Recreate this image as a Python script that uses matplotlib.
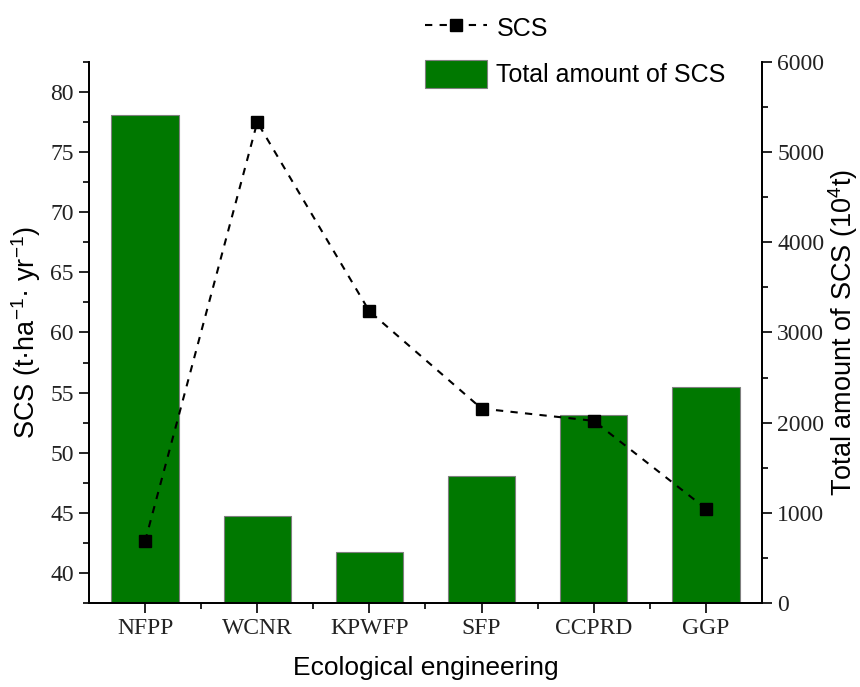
import matplotlib
matplotlib.use("Agg")
import matplotlib.pyplot as plt
from matplotlib.ticker import MultipleLocator, FixedLocator
import numpy as np

plt.rcParams['font.family'] = ['Liberation Sans', 'DejaVu Sans']
plt.rcParams['mathtext.default'] = 'regular'

# Ecological engineering programmes
categories = ['NFPP', 'WCNR', 'KPWFP', 'SFP', 'CCPRD', 'GGP']
# Soil carbon sequestration rate (t·ha-1·yr-1)
scs_rate = [42.63, 77.49, 61.76, 53.67, 52.65, 45.35]
# Total amount of SCS (10^4 t)
scs_total = [5412, 965, 570, 1408, 2083, 2399]

bar_color = '#007800'
serif = 'Liberation Serif'

fig = plt.figure(figsize=(8.6, 6.87), dpi=100)
ax1 = fig.add_axes([0.1035, 0.1223, 0.7825, 0.7875])
ax2 = ax1.twinx()

x = np.arange(len(categories))

# bars on the right axis, drawn underneath the line
ax2.bar(x, scs_total, width=0.6, color=bar_color, edgecolor='#7f7f7f',
        linewidth=0.8, label='Total amount of SCS', zorder=1)
ax2.set_ylim(0, 6000)
ax2.yaxis.set_major_locator(MultipleLocator(1000))
ax2.yaxis.set_minor_locator(MultipleLocator(500))

# line on the left axis
ax1.set_zorder(ax2.get_zorder() + 1)
ax1.patch.set_visible(False)
ax1.plot(x, scs_rate, color='black', linestyle=(0, (3.5, 3.5)), linewidth=1.5,
         marker='s', markersize=8.5, markerfacecolor='black',
         markeredgecolor='black', label='SCS', zorder=3)
ax1.set_ylim(37.5, 82.5)
ax1.yaxis.set_major_locator(MultipleLocator(5))
ax1.yaxis.set_minor_locator(MultipleLocator(2.5))

ax1.set_xlim(-0.5, 5.5)
ax1.set_xticks(x)
ax1.set_xticklabels(categories)
ax1.xaxis.set_minor_locator(FixedLocator(x[:-1] + 0.5))

for ax in (ax1, ax2):
    ax.spines['top'].set_visible(False)
    for s in ('left', 'right', 'bottom'):
        ax.spines[s].set_linewidth(1.3)
    ax.tick_params(which='major', direction='out', length=7.5, width=1.2,
                   labelsize=17, labelcolor='#222222')
    ax.tick_params(which='minor', direction='out', length=4, width=1.2)
    for lab in ax.get_xticklabels() + ax.get_yticklabels():
        lab.set_fontfamily(serif)

ax1.set_xlabel('Ecological engineering', fontsize=19, labelpad=12)
ax1.set_ylabel('SCS (t·ha$^{-1}$· yr$^{-1}$)', fontsize=19.5, labelpad=5)
ax2.set_ylabel('Total amount of SCS (10$^{4}$t)', fontsize=19.5, labelpad=1)

handles1, labels1 = ax1.get_legend_handles_labels()
handles2, labels2 = ax2.get_legend_handles_labels()
leg = ax1.legend(handles1 + handles2, labels1 + labels2,
                 loc='upper left', bbox_to_anchor=(0.494, 0.9795),
                 bbox_transform=fig.transFigure, fontsize=18,
                 frameon=True, facecolor='white', edgecolor='none',
                 framealpha=0.85, borderpad=0, handlelength=2.5,
                 handleheight=1.35, handletextpad=0.36, labelspacing=0.7,
                 borderaxespad=0, fancybox=False)
leg.set_zorder(10)

fig.savefig('out.png', dpi=100)
